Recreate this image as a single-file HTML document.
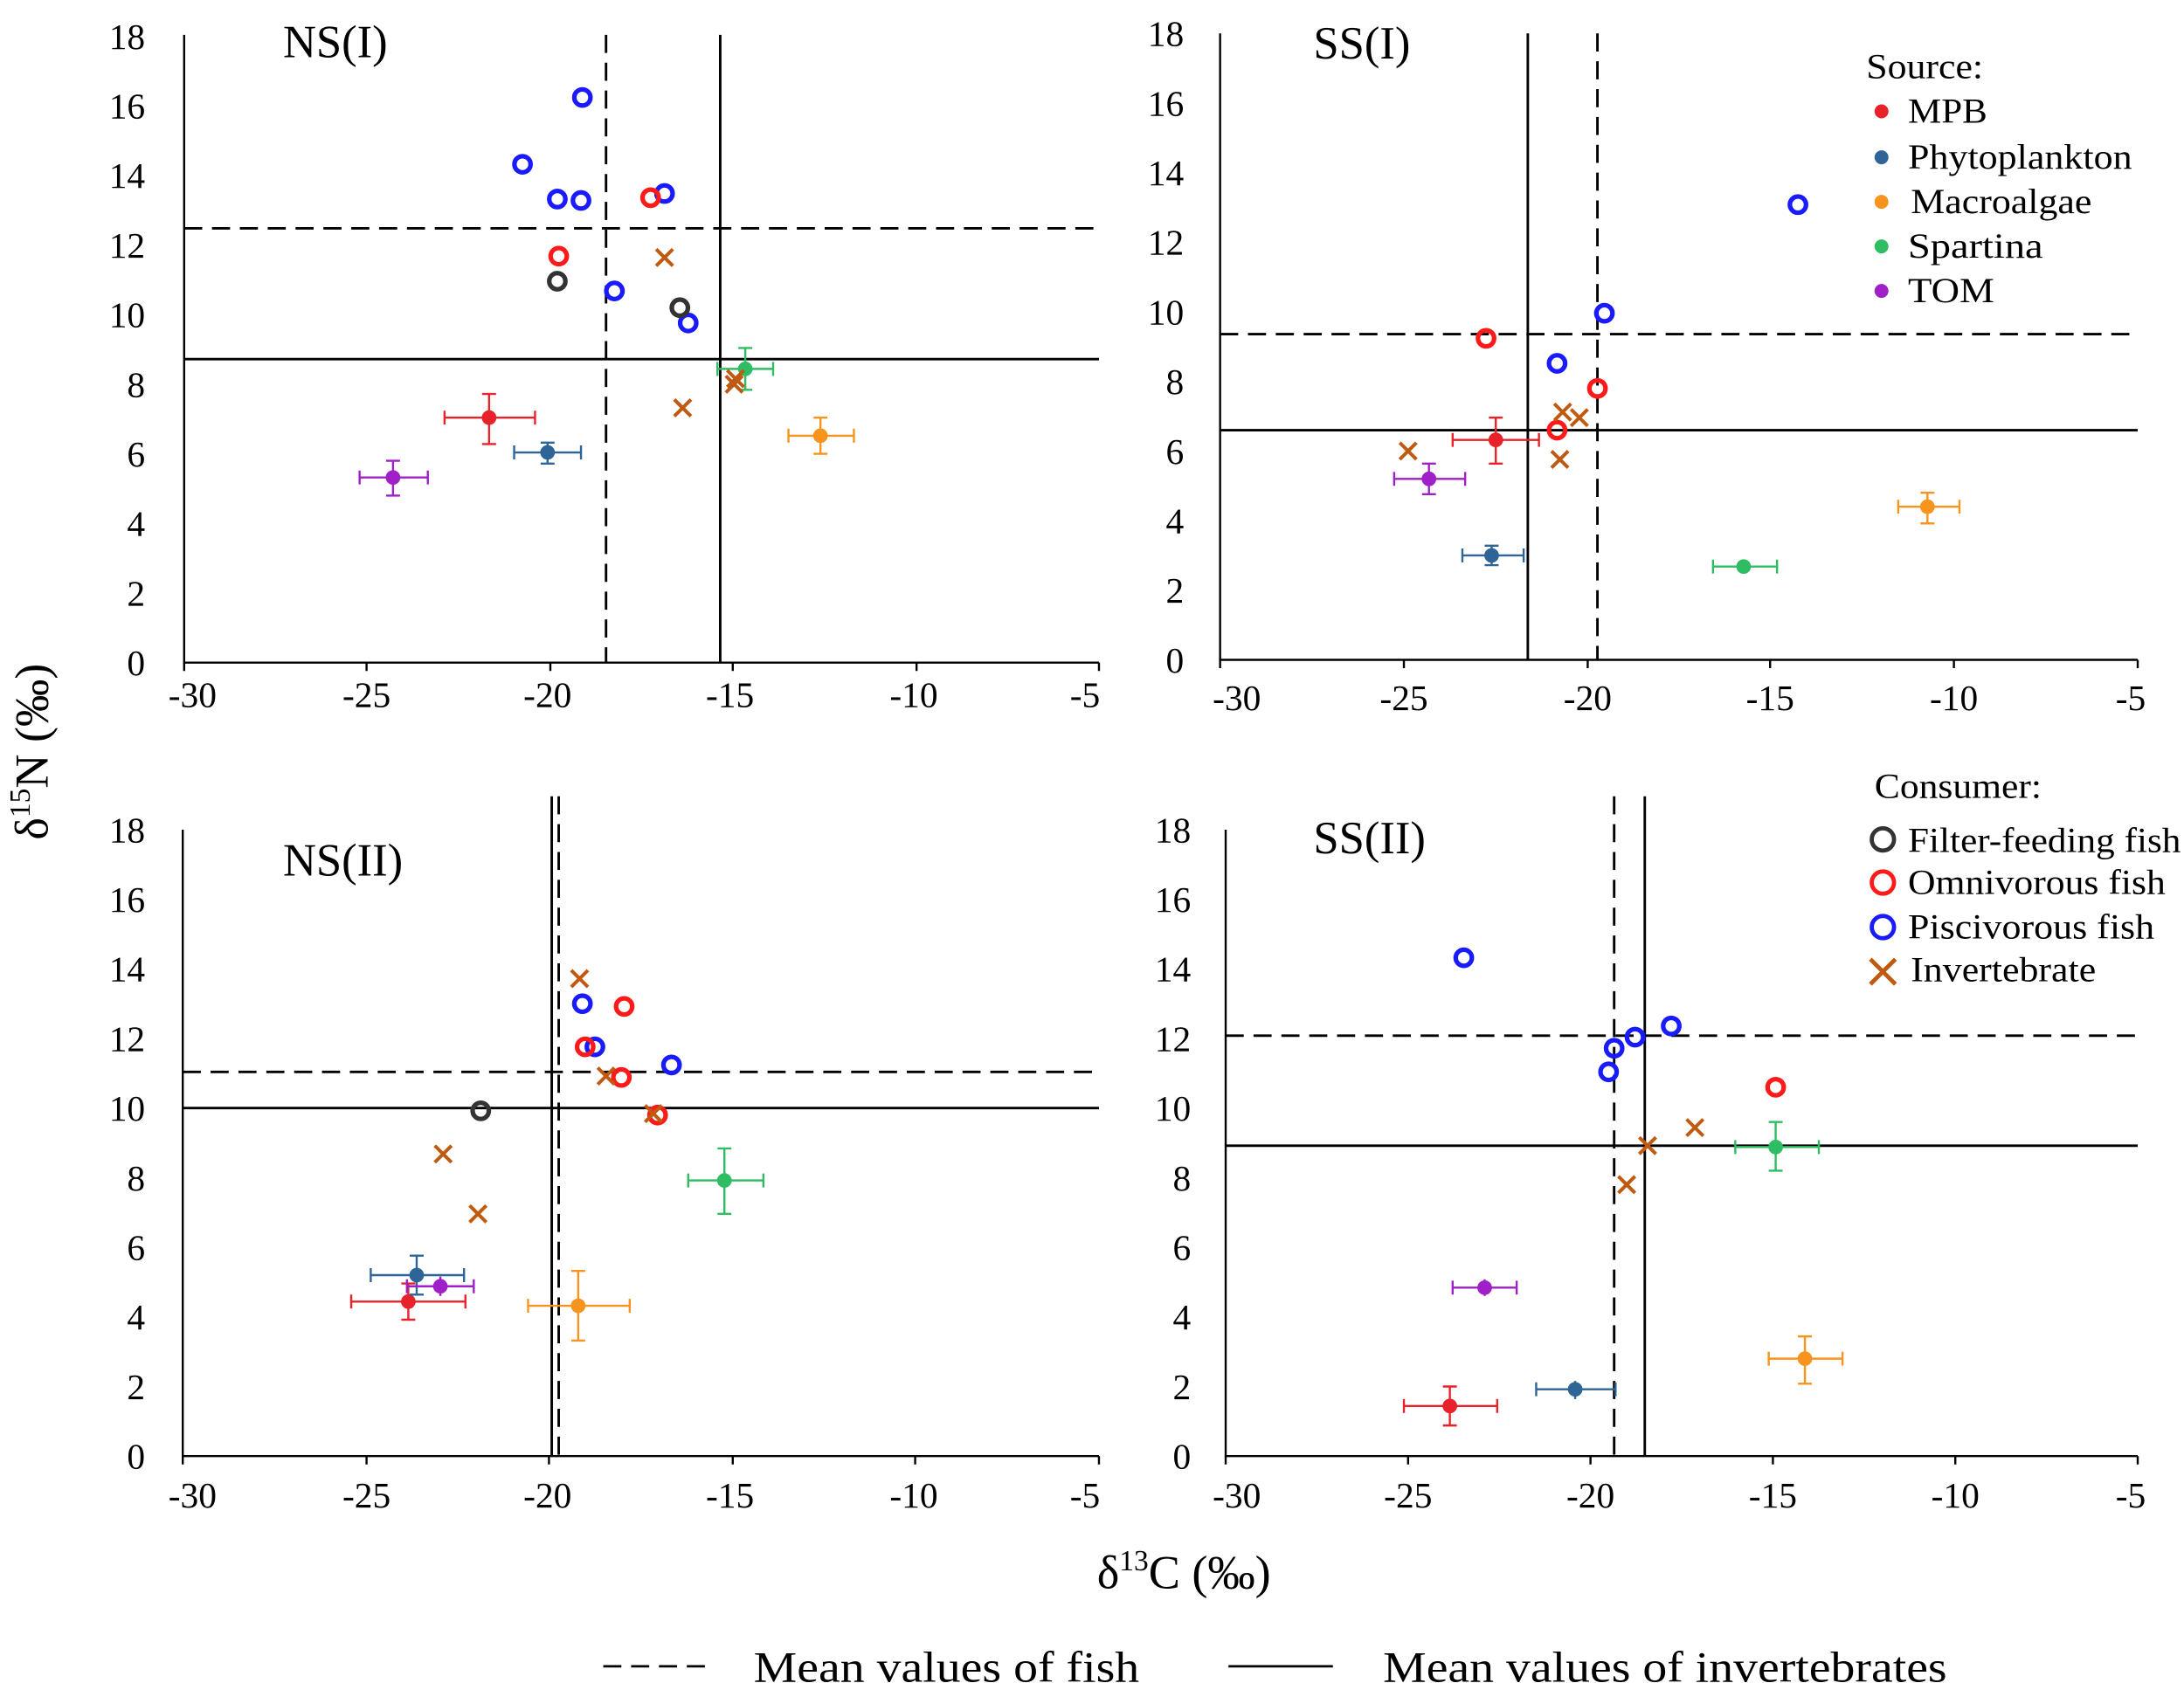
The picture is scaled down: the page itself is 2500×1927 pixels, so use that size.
<!DOCTYPE html>
<html><head><meta charset="utf-8"><style>html,body{margin:0;padding:0;background:#fff}svg{display:block}</style></head>
<body>
<svg width="2500" height="1927" viewBox="0 0 1568 1209" xmlns="http://www.w3.org/2000/svg" font-family="Liberation Serif, serif" font-size="26">
<rect width="1568" height="1209" fill="#fff"/>
<g id="axes" stroke="#000" stroke-width="1.5" fill="none">
<path d="M132,25 V476 H789"/>
<path d="M132,476v6M263,476v6M395,476v6M526,476v6M658,476v6M789,476v6"/>
<path d="M876,24 V474 H1535"/>
<path d="M876,474v6M1008,474v6M1140,474v6M1271,474v6M1403,474v6M1535,474v6"/>
<path d="M131,596 V1046 H789"/>
<path d="M131,1046v6M263,1046v6M394,1046v6M526,1046v6M657,1046v6M789,1046v6"/>
<path d="M880,596 V1046 H1535"/>
<path d="M880,1046v6M1011,1046v6M1142,1046v6M1273,1046v6M1404,1046v6M1535,1046v6"/>
</g>
<g fill="#000" text-anchor="end">
<text x="104" y="485">0</text><text x="104" y="435">2</text><text x="104" y="385">4</text><text x="104" y="335">6</text><text x="104" y="285">8</text><text x="104" y="235">10</text><text x="104" y="185">12</text><text x="104" y="135">14</text><text x="104" y="85">16</text><text x="104" y="35">18</text>
<text x="850" y="483">0</text><text x="850" y="433">2</text><text x="850" y="383">4</text><text x="850" y="333">6</text><text x="850" y="283">8</text><text x="850" y="233">10</text><text x="850" y="183">12</text><text x="850" y="133">14</text><text x="850" y="83">16</text><text x="850" y="33">18</text>
<text x="104" y="1055">0</text><text x="104" y="1005">2</text><text x="104" y="955">4</text><text x="104" y="905">6</text><text x="104" y="855">8</text><text x="104" y="805">10</text><text x="104" y="755">12</text><text x="104" y="705">14</text><text x="104" y="655">16</text><text x="104" y="605">18</text>
<text x="855" y="1055">0</text><text x="855" y="1005">2</text><text x="855" y="955">4</text><text x="855" y="905">6</text><text x="855" y="855">8</text><text x="855" y="805">10</text><text x="855" y="755">12</text><text x="855" y="705">14</text><text x="855" y="655">16</text><text x="855" y="605">18</text>
</g>
<g fill="#000" text-anchor="middle">
<text x="138" y="508">-30</text><text x="263" y="508">-25</text><text x="393" y="508">-20</text><text x="524" y="508">-15</text><text x="656" y="508">-10</text><text x="779" y="508">-5</text>
<text x="888" y="510">-30</text><text x="1008" y="510">-25</text><text x="1140" y="510">-20</text><text x="1271" y="510">-15</text><text x="1403" y="510">-10</text><text x="1530" y="510">-5</text>
<text x="138" y="1083">-30</text><text x="263" y="1083">-25</text><text x="393" y="1083">-20</text><text x="524" y="1083">-15</text><text x="656" y="1083">-10</text><text x="779" y="1083">-5</text>
<text x="888" y="1083">-30</text><text x="1011" y="1083">-25</text><text x="1142" y="1083">-20</text><text x="1273" y="1083">-15</text><text x="1404" y="1083">-10</text><text x="1530" y="1083">-5</text>
</g>
<g font-size="33" fill="#000">
<text x="203" y="41">NS(I)</text><text x="943" y="42">SS(I)</text>
<text x="203" y="629">NS(II)</text><text x="943" y="613">SS(II)</text>
</g>
<text transform="translate(34,540) rotate(-90)" text-anchor="middle" font-size="34">δ<tspan font-size="21" dy="-13">15</tspan><tspan dy="13">N (‰)</tspan></text>
<text x="850" y="1141" text-anchor="middle" font-size="34">δ<tspan font-size="21" dy="-13">13</tspan><tspan dy="13">C (‰)</tspan></text>
<g stroke="#000" stroke-width="1.8" fill="none">
<path d="M435,25V476M132,164H789M1147,24V474M876,240H1535M401,572V1046M131,770H789M1159,572V1046M880,744H1535" stroke-dasharray="13,7"/>
<path d="M517,25V476M132,258H789M1097,24V474M876,309H1535M396,572V1046M131,796H789M1181,572V1046M880,823H1535"/>
<path d="M433,1197h75" stroke-dasharray="13,7"/><path d="M882,1197h75"/>
</g>
<text x="541" y="1208" font-size="31" textLength="277" lengthAdjust="spacingAndGlyphs">Mean values of fish</text>
<text x="993" y="1208" font-size="31" textLength="405" lengthAdjust="spacingAndGlyphs">Mean values of invertebrates</text>
<g stroke-width="1.5">
<g stroke="#e8222a" fill="#e8222a"><path d="M319,300H384M319,295v10M384,295v10M351,283V319M346,283h10M346,319h10"/><circle cx="351" cy="300" r="4.5"/></g>
<g stroke="#2e6496" fill="#2e6496"><path d="M369,325H417M369,320v10M417,320v10M393,318V333M388,318h10M388,333h10"/><circle cx="393" cy="325" r="4.5"/></g>
<g stroke="#a020c8" fill="#a020c8"><path d="M258,343H307M258,338v10M307,338v10M282,331V356M277,331h10M277,356h10"/><circle cx="282" cy="343" r="4.5"/></g>
<g stroke="#2ebd63" fill="#2ebd63"><path d="M515,265H555M515,260v10M555,260v10M535,250V280M530,250h10M530,280h10"/><circle cx="535" cy="265" r="4.5"/></g>
<g stroke="#f7941d" fill="#f7941d"><path d="M566,313H613M566,308v10M613,308v10M589,300V326M584,300h10M584,326h10"/><circle cx="589" cy="313" r="4.5"/></g>
<g stroke="#e8222a" fill="#e8222a"><path d="M1043,316H1105M1043,311v10M1105,311v10M1074,300V333M1069,300h10M1069,333h10"/><circle cx="1074" cy="316" r="4.5"/></g>
<g stroke="#a020c8" fill="#a020c8"><path d="M1001,344H1052M1001,339v10M1052,339v10M1026,333V355M1021,333h10M1021,355h10"/><circle cx="1026" cy="344" r="4.5"/></g>
<g stroke="#2e6496" fill="#2e6496"><path d="M1050,399H1094M1050,394v10M1094,394v10M1071,392V406M1066,392h10M1066,406h10"/><circle cx="1071" cy="399" r="4.5"/></g>
<g stroke="#2ebd63" fill="#2ebd63"><path d="M1230,407H1276M1230,402v10M1276,402v10"/><circle cx="1252" cy="407" r="4.5"/></g>
<g stroke="#f7941d" fill="#f7941d"><path d="M1363,364H1407M1363,359v10M1407,359v10M1384,354V376M1379,354h10M1379,376h10"/><circle cx="1384" cy="364" r="4.5"/></g>
<g stroke="#2ebd63" fill="#2ebd63"><path d="M494,848H548M494,843v10M548,843v10M520,825V872M515,825h10M515,872h10"/><circle cx="520" cy="848" r="4.5"/></g>
<g stroke="#e8222a" fill="#e8222a"><path d="M252,935H334M252,930v10M334,930v10M293,922V948M288,922h10M288,948h10"/><circle cx="293" cy="935" r="4.5"/></g>
<g stroke="#2e6496" fill="#2e6496"><path d="M266,916H333M266,911v10M333,911v10M299,902V930M294,902h10M294,930h10"/><circle cx="299" cy="916" r="4.5"/></g>
<g stroke="#a020c8" fill="#a020c8"><path d="M292,924H340M292,919v10M340,919v10M316,917V931"/><circle cx="316" cy="924" r="4.5"/></g>
<g stroke="#f7941d" fill="#f7941d"><path d="M379,938H452M379,933v10M452,933v10M415,913V963M410,913h10M410,963h10"/><circle cx="415" cy="938" r="4.5"/></g>
<g stroke="#2ebd63" fill="#2ebd63"><path d="M1246,824H1306M1246,819v10M1306,819v10M1275,806V841M1270,806h10M1270,841h10"/><circle cx="1275" cy="824" r="4.5"/></g>
<g stroke="#a020c8" fill="#a020c8"><path d="M1043,925H1089M1043,920v10M1089,920v10M1066,919V931"/><circle cx="1066" cy="925" r="4.5"/></g>
<g stroke="#f7941d" fill="#f7941d"><path d="M1270,976H1323M1270,971v10M1323,971v10M1296,960V994M1291,960h10M1291,994h10"/><circle cx="1296" cy="976" r="4.5"/></g>
<g stroke="#2e6496" fill="#2e6496"><path d="M1103,998H1160M1103,993v10M1160,993v10M1131,992V1005"/><circle cx="1131" cy="998" r="4.5"/></g>
<g stroke="#e8222a" fill="#e8222a"><path d="M1008,1010H1075M1008,1005v10M1075,1005v10M1041,996V1024M1036,996h10M1036,1024h10"/><circle cx="1041" cy="1010" r="4.5"/></g>
</g>
<g fill="none" stroke-width="3.3">
<g stroke="#1a1aff"><circle cx="418" cy="70" r="5.8"/><circle cx="375" cy="118" r="5.8"/><circle cx="400" cy="143" r="5.8"/><circle cx="417" cy="144" r="5.8"/><circle cx="477" cy="139" r="5.8"/><circle cx="441" cy="209" r="5.8"/><circle cx="494" cy="232" r="5.8"/>
<circle cx="1291" cy="147" r="5.8"/><circle cx="1152" cy="225" r="5.8"/><circle cx="1118" cy="261" r="5.8"/>
<circle cx="418" cy="721" r="5.8"/><circle cx="427" cy="752" r="5.8"/><circle cx="482" cy="765" r="5.8"/>
<circle cx="1051" cy="688" r="5.8"/><circle cx="1200" cy="737" r="5.8"/><circle cx="1174" cy="745" r="5.8"/><circle cx="1159" cy="753" r="5.8"/><circle cx="1155" cy="770" r="5.8"/></g>
<g stroke="#ff1a1a"><circle cx="401" cy="184" r="5.8"/><circle cx="467" cy="142" r="5.8"/><circle cx="1067" cy="243" r="5.8"/><circle cx="1147" cy="279" r="5.8"/><circle cx="1118" cy="309" r="5.8"/>
<circle cx="448" cy="723" r="5.8"/><circle cx="420" cy="752" r="5.8"/><circle cx="446" cy="774" r="5.8"/><circle cx="472" cy="801" r="5.8"/><circle cx="1275" cy="781" r="5.8"/></g>
<g stroke="#333"><circle cx="400" cy="202" r="5.8"/><circle cx="488" cy="221" r="5.8"/><circle cx="345" cy="798" r="5.8"/></g>
</g>
<g stroke="#c05a10" stroke-width="2.5">
<path d="M471,179l12,12m0,-12l-12,12"/><path d="M484,287l12,12m0,-12l-12,12"/><path d="M522,266l12,12m0,-12l-12,12"/><path d="M521,270l12,12m0,-12l-12,12"/>
<path d="M1005,318l12,12m0,-12l-12,12"/><path d="M1116,290l12,12m0,-12l-12,12"/><path d="M1128,294l12,12m0,-12l-12,12"/><path d="M1114,324l12,12m0,-12l-12,12"/>
<path d="M410,697l12,12m0,-12l-12,12"/><path d="M429,767l12,12m0,-12l-12,12"/><path d="M463,794l12,12m0,-12l-12,12"/><path d="M312,823l12,12m0,-12l-12,12"/><path d="M337,866l12,12m0,-12l-12,12"/>
<path d="M1211,804l12,12m0,-12l-12,12"/><path d="M1177,817l12,12m0,-12l-12,12"/><path d="M1162,845l12,12m0,-12l-12,12"/>
</g>
<g font-size="25" fill="#000">
<text x="1340" y="56" textLength="84" lengthAdjust="spacingAndGlyphs">Source:</text>
<circle cx="1351" cy="80" r="5" fill="#e8222a"/><text x="1370" y="88" textLength="57" lengthAdjust="spacingAndGlyphs">MPB</text>
<circle cx="1351" cy="113" r="5" fill="#2e6496"/><text x="1370" y="121" textLength="161" lengthAdjust="spacingAndGlyphs">Phytoplankton</text>
<circle cx="1351" cy="145" r="5" fill="#f7941d"/><text x="1372" y="153" textLength="130" lengthAdjust="spacingAndGlyphs">Macroalgae</text>
<circle cx="1351" cy="177" r="5" fill="#2ebd63"/><text x="1370" y="185" textLength="97" lengthAdjust="spacingAndGlyphs">Spartina</text>
<circle cx="1351" cy="209" r="5" fill="#a020c8"/><text x="1370" y="217" textLength="62" lengthAdjust="spacingAndGlyphs">TOM</text>
<text x="1346" y="573" textLength="120" lengthAdjust="spacingAndGlyphs">Consumer:</text>
<circle cx="1352" cy="603" r="8" fill="none" stroke="#333" stroke-width="3"/><text x="1370" y="612" textLength="196" lengthAdjust="spacingAndGlyphs">Filter-feeding fish</text>
<circle cx="1352" cy="634" r="8" fill="none" stroke="#ff1a1a" stroke-width="3"/><text x="1370" y="642" textLength="185" lengthAdjust="spacingAndGlyphs">Omnivorous fish</text>
<circle cx="1352" cy="666" r="8" fill="none" stroke="#1a1aff" stroke-width="3"/><text x="1370" y="674" textLength="177" lengthAdjust="spacingAndGlyphs">Piscivorous fish</text>
<path d="M1343,689l18,18m0,-18l-18,18" stroke="#c05a10" stroke-width="3"/><text x="1372" y="705" textLength="133" lengthAdjust="spacingAndGlyphs">Invertebrate</text>
</g>
</svg>
</body></html>
